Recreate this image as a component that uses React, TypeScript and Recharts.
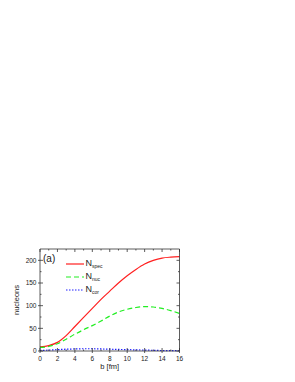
import React from 'react';
import { LineChart, Line, XAxis, YAxis, Legend, Label } from 'recharts';

// impact parameter b [fm]
const bValues = [0, 1, 2, 3, 4, 5, 6, 7, 8, 9, 10, 11, 12, 13, 14, 15, 16];
const nSpec = [9, 12, 19, 34, 54, 74, 94, 114, 132, 150, 166, 180, 192, 200, 205, 207, 208];
const nNuc = [8, 10, 16, 26, 37, 47, 56, 66, 77, 86, 92, 96, 98, 97, 94, 89, 83];
const nCor = [1, 2, 3, 4, 4.5, 5, 5, 4.5, 4, 3.5, 3, 2.5, 2, 1.5, 1, 0.8, 0.5];

const xTicks = [0, 1, 2, 3, 4, 5, 6, 7, 8, 9, 10, 11, 12, 13, 14, 15, 16];
const yTicks = [0, 25, 50, 75, 100, 125, 150, 175, 200];

const data = bValues.map((b, i) => ({ b, spec: nSpec[i], nuc: nNuc[i], cor: nCor[i] }));

const AXIS = '#333';
const FONT = '"Liberation Sans", Arial, sans-serif';
const MAJOR = 3;
const MINOR = 1.5;
const OUT = 2;

const isMajorX = (v: number) => v % 2 === 0;
const isMajorY = (v: number) => v % 50 === 0;

const BottomTick = ({ x, y, payload }: any) => {
    const major = isMajorX(payload.value);
    return (
        <g>
            <line x1={x} x2={x} y1={y} y2={y - (major ? MAJOR : MINOR)} stroke={AXIS} strokeWidth={0.8} />
            {major && <line x1={x} x2={x} y1={y} y2={y + OUT} stroke={AXIS} strokeWidth={0.8} />}
            {major && (
                <text x={x} y={y + 10} textAnchor="middle" fontSize={6.5} fontFamily={FONT} fill="#222">
                    {payload.value}
                </text>
            )}
        </g>
    );
};

const TopTick = ({ x, y, payload }: any) => (
    <line x1={x} x2={x} y1={y} y2={y + (isMajorX(payload.value) ? MAJOR : MINOR)} stroke={AXIS} strokeWidth={0.8} />
);

const LeftTick = ({ x, y, payload }: any) => {
    const major = isMajorY(payload.value);
    return (
        <g>
            <line x1={x} x2={x + (major ? MAJOR : MINOR)} y1={y} y2={y} stroke={AXIS} strokeWidth={0.8} />
            {major && <line x1={x} x2={x - OUT} y1={y} y2={y} stroke={AXIS} strokeWidth={0.8} />}
            {major && (
                <text x={x - 3.5} y={y + 2.4} textAnchor="end" fontSize={6.5} fontFamily={FONT} fill="#222">
                    {payload.value}
                </text>
            )}
        </g>
    );
};

const RightTick = ({ x, y, payload }: any) => (
    <line x1={x} x2={x - (isMajorY(payload.value) ? MAJOR : MINOR)} y1={y} y2={y} stroke={AXIS} strokeWidth={0.8} />
);

const YTitle = ({ viewBox }: any) => {
    const cx = 17;
    const cy = viewBox.y + viewBox.height / 2;
    return (
        <text x={cx} y={cy} transform={`rotate(-90 ${cx} ${cy})`} textAnchor="middle" dominantBaseline="middle"
            fontSize={7.5} fontFamily={FONT} fill="#222">
            nucleons
        </text>
    );
};

const legendRows = [
    { name: 'spec', color: '#ff2020', dash: undefined, top: 264 },
    { name: 'nuc', color: '#22ee22', dash: '5 3', top: 277 },
    { name: 'cor', color: '#2020ff', dash: '1.5 1.5', top: 290 },
];

const renderLegend = () => (
    <div style={{ position: 'relative', width: 295, height: 382, fontFamily: FONT, color: '#222' }}>
        <div style={{ position: 'absolute', left: 43, top: 254, fontSize: 10, lineHeight: '10px' }}>(a)</div>
        {legendRows.map((r) => (
            <div key={r.name}>
                <svg width={18} height={4} style={{ position: 'absolute', left: 66, top: r.top - 2 }}>
                    <line x1={0} x2={18} y1={2} y2={2} stroke={r.color} strokeWidth={1.2} strokeDasharray={r.dash} />
                </svg>
                <div style={{ position: 'absolute', left: 85.5, top: r.top - 5, fontSize: 9, lineHeight: '9px', whiteSpace: 'nowrap' }}>
                    N<span style={{ fontSize: 5, position: 'relative', top: 2 }}>{r.name}</span>
                </div>
            </div>
        ))}
    </div>
);

export default function App() {
    return (
        <div style={{ position: 'absolute', left: 0, top: 0, width: 295, height: 382, background: '#fff' }}>
            <LineChart width={295} height={382} data={data} margin={{ top: 248, right: 114.5, bottom: 0, left: 0 }}>
                <XAxis
                    xAxisId="b"
                    dataKey="b"
                    type="number"
                    domain={[0, 16]}
                    ticks={xTicks}
                    interval={0}
                    height={31}
                    tickSize={0}
                    tickMargin={0}
                    tickLine={false}
                    axisLine={{ stroke: AXIS, strokeWidth: 0.8 }}
                    tick={<BottomTick />}
                >
                    <Label value="b  [fm]" position="insideBottom" offset={13} fontSize={7.5} fontFamily={FONT} fill="#222" />
                </XAxis>
                <XAxis
                    xAxisId="t"
                    dataKey="b"
                    type="number"
                    orientation="top"
                    domain={[0, 16]}
                    ticks={xTicks}
                    interval={0}
                    height={1}
                    tickSize={0}
                    tickMargin={0}
                    tickLine={false}
                    axisLine={{ stroke: AXIS, strokeWidth: 0.8 }}
                    tick={<TopTick />}
                />
                <YAxis
                    yAxisId="n"
                    type="number"
                    domain={[0, 225]}
                    ticks={yTicks}
                    interval={0}
                    width={40}
                    tickSize={0}
                    tickMargin={0}
                    tickLine={false}
                    axisLine={{ stroke: AXIS, strokeWidth: 0.8 }}
                    tick={<LeftTick />}
                >
                    <Label content={<YTitle />} />
                </YAxis>
                <YAxis
                    yAxisId="r"
                    orientation="right"
                    type="number"
                    domain={[0, 225]}
                    ticks={yTicks}
                    interval={0}
                    width={1}
                    tickSize={0}
                    tickMargin={0}
                    tickLine={false}
                    axisLine={{ stroke: AXIS, strokeWidth: 0.8 }}
                    tick={<RightTick />}
                />
                <Legend
                    layout="vertical"
                    align="center"
                    verticalAlign="middle"
                    content={renderLegend}
                    wrapperStyle={{ left: 0, top: 0, width: 295, height: 382, pointerEvents: 'none' }}
                />
                <Line xAxisId="b" yAxisId="n" type="monotone" dataKey="spec" stroke="#ff2020" strokeWidth={1.2} dot={false} isAnimationActive={false} />
                <Line xAxisId="b" yAxisId="n" type="monotone" dataKey="nuc" stroke="#22ee22" strokeWidth={1.2} strokeDasharray="5 3" dot={false} isAnimationActive={false} />
                <Line xAxisId="b" yAxisId="n" type="monotone" dataKey="cor" stroke="#2020ff" strokeWidth={1.2} strokeDasharray="1.5 1.5" dot={false} isAnimationActive={false} />
                <Line xAxisId="t" yAxisId="r" dataKey="spec" stroke="none" dot={false} legendType="none" isAnimationActive={false} />
            </LineChart>
        </div>
    );
}
